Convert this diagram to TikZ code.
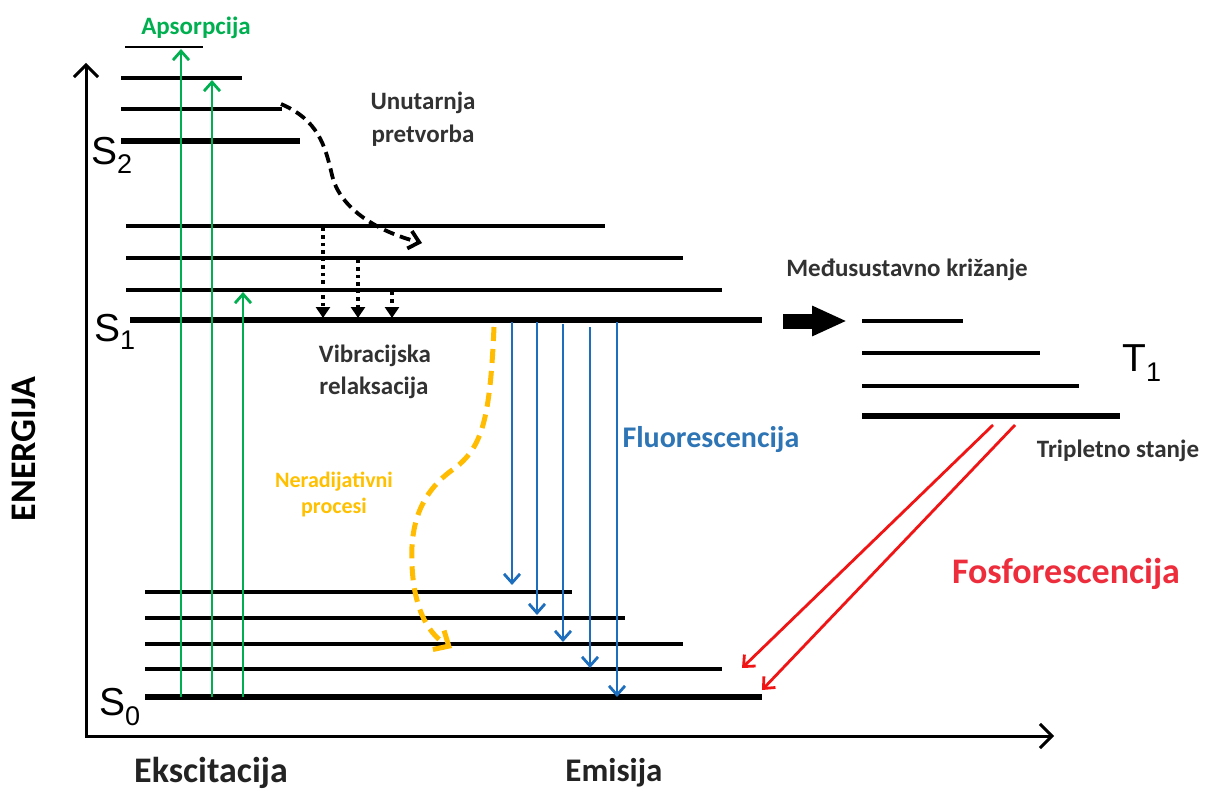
\documentclass[tikz,border=0pt]{standalone}
\usepackage{fontspec}
\setmainfont{Carlito}
\newfontfamily\arialf{Liberation Sans}
\usetikzlibrary{arrows.meta}
\definecolor{grn}{RGB}{0,176,80}
\definecolor{blu}{RGB}{30,110,190}
\definecolor{fblu}{RGB}{46,117,182}
\definecolor{ylw}{RGB}{255,188,0}
\definecolor{rd}{RGB}{240,20,20}
\definecolor{frd}{RGB}{238,45,60}
\definecolor{txt}{RGB}{50,50,50}
\definecolor{nrd}{RGB}{255,192,0}
\newcommand{\fsz}[1]{\fontsize{#1}{#1}\selectfont}
\newcommand{\stlabel}[3]{{\arialf\fsz{39}#1\raisebox{-#3pt}{\fsz{27}#2}}}
\begin{document}
\begin{tikzpicture}[x=1pt,y=-1pt,
  lvl/.style={line width=3.5pt},
  lvlthick/.style={line width=5.8pt},
  barbtip/.style={-{Straight Barb[length=9pt,width=16pt]}},
  absarrow/.style={grn,line width=2.8pt,barbtip},
  fluarrow/.style={blu,line width=2.8pt,barbtip},
  phosarrow/.style={rd,line width=2.8pt,barbtip},
  vibarrow/.style={line width=3.8pt,dash pattern=on 3.5pt off 4pt,-{Triangle[length=11pt,width=14pt]}},
  lbl/.style={anchor=base,inner sep=0pt,font=\bfseries\fsz{25},text=txt},
]
\useasboundingbox (0,0) rectangle (1206,791);
\fill[white] (0,0) rectangle (1206,791);

% axes
\draw[line width=3pt,{Straight Barb[length=12pt,width=24pt]}-{Straight Barb[length=12pt,width=24pt]}]
  (86,63) -- (86,736) -- (1054,736);

% S2 levels
\draw[line width=2.6pt] (125,47) -- (203,47);
\draw[lvl] (121,78) -- (242,78);
\draw[lvl] (121,109) -- (282,109);
\draw[lvlthick] (121,141) -- (300,141);
% S1 levels
\draw[lvl] (126,226) -- (605,226);
\draw[lvl] (126,258) -- (683,258);
\draw[lvl] (126,290) -- (722,290);
\draw[lvlthick] (130,320) -- (762,320);
% S0 levels
\draw[lvl] (145,592) -- (572,592);
\draw[lvl] (145,618) -- (625,618);
\draw[lvl] (145,644) -- (683,644);
\draw[lvl] (145,669) -- (722,669);
\draw[lvlthick] (145,697) -- (762,697);
% T1 levels
\draw[lvl] (862,321) -- (963,321);
\draw[lvl] (862,353) -- (1040,353);
\draw[lvl] (862,386) -- (1079,386);
\draw[lvlthick] (862,416) -- (1120,416);

% state labels
\node[anchor=base west,inner sep=0pt] (s2) at (91,165) {\stlabel{S}{2}{9}};
\node[anchor=base west,inner sep=0pt] (s1) at (94,341) {\stlabel{S}{1}{9}};
\node[anchor=base west,inner sep=0pt] (s0) at (99,715) {\stlabel{S}{0}{10}};
\node[anchor=base west,inner sep=0pt] (t1) at (1122,371) {\stlabel{T}{1}{10}};

% absorption
\coordinate (a1s) at (181,697); \coordinate (a1e) at (181,49);
\coordinate (a2s) at (212,697); \coordinate (a2e) at (212,80);
\coordinate (a3s) at (243,697); \coordinate (a3e) at (243,292);
\draw[absarrow] (a1s) -- (a1e);
\draw[absarrow] (a2s) -- (a2e);
\draw[absarrow] (a3s) -- (a3e);

% internal conversion
\draw[line width=3.8pt,dash pattern=on 11pt off 6pt,-{Straight Barb[length=10pt,width=18pt]}]
  (281,104) .. controls (318,120) and (325,145) .. (332,175)
  .. controls (340,210) and (380,232) .. (422,243);

% vibrational relaxation
\draw[vibarrow] (323,228) -- (323,318);
\draw[vibarrow] (358,260) -- (358,318);
\draw[vibarrow] (392,292) -- (392,318);

% non-radiative
\draw[ylw,line width=5pt,dash pattern=on 14pt off 8pt,-{Straight Barb[length=12pt,width=22pt]}]
  (494,327) .. controls (490,420) and (482,447) .. (455,468)
  .. controls (420,492) and (410,525) .. (412,565)
  .. controls (414,612) and (430,635) .. (452,648);

% fluorescence
\draw[fluarrow] (512,322) -- (512,585);
\draw[fluarrow] (537,322) -- (537,615);
\draw[fluarrow] (563,324) -- (563,642);
\draw[fluarrow] (590,327) -- (590,668);
\draw[fluarrow] (617,322) -- (617,697);

% intersystem crossing
\coordinate (iscs) at (783,321); \coordinate (isce) at (847,321);
\draw[line width=15pt,-{Triangle[length=35pt,width=28pt]}] (iscs) -- (isce);

% phosphorescence
\draw[phosarrow] (993,425) -- (742,668);
\draw[phosarrow] (1015,425) -- (762,690);

% texts
\node[lbl,text=grn] (aps) at (196,35) {Apsorpcija};
\node[lbl] (unut1) at (423,110) {Unutarnja};
\node[lbl] (unut2) at (423,143) {pretvorba};
\node[lbl] (vib1) at (375,362) {Vibracijska};
\node[lbl] (vib2) at (374,394) {relaksacija};
\node[lbl,text=nrd,font=\bfseries\fsz{22}] (ner1) at (334,487) {Neradijativni};
\node[lbl,text=nrd,font=\bfseries\fsz{22}] (ner2) at (334,513) {procesi};
\node[lbl,text=fblu,font=\bfseries\fsz{30}] (fluo) at (711,447) {Fluorescencija};
\node[lbl] (medu) at (907,277) {Međusustavno križanje};
\node[lbl] (trip) at (1118,457) {Tripletno stanje};
\node[lbl,text=frd,font=\bfseries\fsz{36}] (fos) at (1066,583) {Fosforescencija};
\node[lbl,text=black,font=\bfseries\fsz{36},rotate=90] (energ) at (35,449) {ENERGIJA};
\node[lbl,text={rgb,255:red,35;green,35;blue,35},font=\bfseries\fsz{36}] (eksc) at (211,782) {Ekscitacija};
\node[lbl,text={rgb,255:red,35;green,35;blue,35},font=\bfseries\fsz{33}] (emis) at (614,781) {Emisija};
\end{tikzpicture}
\end{document}
